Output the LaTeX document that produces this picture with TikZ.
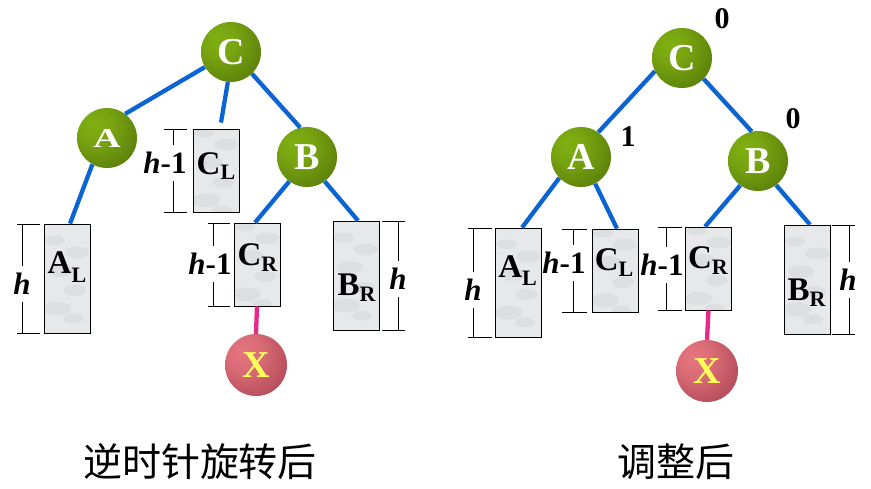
\documentclass[tikz,border=0pt]{standalone}
\usepackage{fontspec}
\setmainfont{Liberation Serif}
\newfontfamily\cjk{Noto Sans CJK SC}
\definecolor{gLight}{RGB}{128,176,18}
\definecolor{gDark}{RGB}{72,100,6}
\definecolor{rLight}{RGB}{230,118,128}
\definecolor{rDark}{RGB}{150,52,66}
\definecolor{xyellow}{RGB}{255,255,90}
\definecolor{edgeblue}{RGB}{10,100,210}
\definecolor{edgepink}{RGB}{232,40,140}
\definecolor{boxgray}{RGB}{230,232,233}
\definecolor{spotgray}{RGB}{200,203,205}
\pgfdeclareradialshading{greenball}{\pgfpoint{-12bp}{12bp}}{color(0bp)=(gLight); color(14bp)=(gLight!85!gDark); color(52bp)=(gDark); color(80bp)=(gDark)}
\pgfdeclareradialshading{redball}{\pgfpoint{-12bp}{12bp}}{color(0bp)=(rLight); color(14bp)=(rLight!85!rDark); color(52bp)=(rDark); color(80bp)=(rDark)}
\newcommand{\sublab}[3]{{\fontsize{33}{33}\selectfont #1}\raisebox{-#3pt}{\fontsize{22}{22}\selectfont #2}}
\newcommand{\hlab}{{\itshape h}}
\newcommand{\hmlab}{{\itshape h}-1}
\begin{document}
\begin{tikzpicture}[x=1pt,y=-1pt,
  gball/.style={circle, minimum size=60pt, inner sep=0pt, shading=greenball, text=white, font=\fontsize{38}{38}\selectfont\bfseries},
  rball/.style={circle, minimum size=62pt, inner sep=0pt, shading=redball, text=xyellow, font=\fontsize{38}{38}\selectfont\bfseries},
  subtree/.style={draw=black, line width=0.8pt, inner sep=0pt, minimum width=46pt,
    path picture={\fill[boxgray] (path picture bounding box.south west) rectangle (path picture bounding box.north east);
      \foreach \dx/\dy/\rr in {-10/-30/14, 8/-12/11, -6/8/13, 10/26/12, -12/38/10, 6/-40/10}{
        \fill[spotgray, opacity=0.3] ([xshift=\dx pt, yshift=\dy pt]path picture bounding box.center) ellipse ({\rr pt} and {0.5*\rr pt});}}},
  boxtext/.style={anchor=base, inner sep=0pt, font=\bfseries},
  edge/.style={draw=edgeblue, line width=4.3pt},
  xedge/.style={draw=edgepink, line width=4.3pt},
  dimline/.style={draw=black, line width=0.7pt},
  dimtext/.style={fill=white, inner xsep=0pt, inner ysep=7pt, font=\fontsize{31}{31}\selectfont\bfseries},
  baltext/.style={inner sep=0pt, font=\fontsize{30}{30}\selectfont\bfseries},
  caption/.style={inner sep=0pt, font=\cjk\fontsize{39}{39}\selectfont}]
\useasboundingbox (0,0) rectangle (871,488);
\fill[white] (0,0) rectangle (871,488);

% ---------------- left tree ----------------
\node[subtree, minimum height=109pt] (AL) at (67,278.5) {};
\node[subtree, minimum height=83pt] (CL) at (216,170.5) {};
\node[subtree, minimum height=83pt] (CR) at (257,264.5) {};
\node[subtree, minimum height=109pt] (BR) at (356,275.5) {};

\node[gball] (C) at (231,52) {C};
\node[gball] (A) at (107,138) {\scalebox{1}[0.72]{A}};
\node[gball] (B) at (307,157) {B};
\node[rball] (X) at (256,365) {X};

\draw[edge] (C.-150) -- (A.53);
\draw[edge] (C.-96) -- ([xshift=5pt,yshift=6pt]CL.north);
\draw[edge] (C.-46) -- (B.103);
\draw[edge] (A.-119) -- ([xshift=3pt]AL.north);
\draw[edge] (B.-126) -- ([xshift=-2pt]CR.north);
\draw[edge] (B.-54) -- ([xshift=2pt]BR.north);
\draw[xedge] (CR.south) -- (X.north);

\node[boxtext] (ALt) at (67,273) {\sublab{A}{L}{9}};
\node[boxtext] (CLt) at (216,174) {\sublab{C}{L}{5}};
\node[boxtext] (CRt) at (257.5,265) {\sublab{C}{R}{6}};
\node[boxtext] (BRt) at (356.5,295) {\sublab{B}{R}{6}};

\draw[dimline] (17,224) -- (40,224) (22,224) -- (22,333) (17,333) -- (40,333);
\node[dimtext] (hAL) at (22,284) {\hlab};
\draw[dimline] (164,129) -- (187,129) (173,129) -- (173,212) (164,212) -- (187,212);
\node[dimtext] (hCL) at (165,163) {\hmlab};
\draw[dimline] (208,223) -- (230,223) (213,223) -- (213,306) (208,306) -- (230,306);
\node[dimtext] (hCR) at (210,264) {\hmlab};
\draw[dimline] (382,221) -- (405,221) (398,221) -- (398,330) (382,330) -- (405,330);
\node[dimtext] (hBR) at (398,279) {\hlab};

% ---------------- right tree ----------------
\node[subtree, minimum height=109pt] (AL2) at (518.5,282.5) {};
\node[subtree, minimum height=83pt] (CL2) at (615,270.5) {};
\node[subtree, minimum height=83pt] (CR2) at (708.5,268.5) {};
\node[subtree, minimum height=109pt] (BR2) at (807,279.5) {};

\node[gball] (C2) at (682,58) {C};
\node[gball] (A2) at (581,157) {A};
\node[gball] (B2) at (758,161) {B};
\node[rball] (X2) at (707,371) {X};

\draw[edge] (C2.-154) -- (A2.55);
\draw[edge] (C2.-44) -- (B2.102);
\draw[edge] (A2.-136) -- ([xshift=3.5pt]AL2.north);
\draw[edge] (A2.-62) -- ([xshift=2pt]CL2.north);
\draw[edge] (B2.-126) -- ([xshift=-3.5pt]CR2.north);
\draw[edge] (B2.-53) -- ([xshift=3pt]BR2.north);
\draw[xedge] (CR2.south) -- (X2.north);

\node[boxtext] (AL2t) at (517.5,277) {\sublab{A}{L}{8}};
\node[boxtext] (CL2t) at (614,270) {\sublab{C}{L}{6}};
\node[boxtext] (CR2t) at (708,268) {\sublab{C}{R}{6}};
\node[boxtext] (BR2t) at (806.5,300) {\sublab{B}{R}{6}};

\draw[dimline] (468,228) -- (492,228) (473,228) -- (473,337) (468,337) -- (492,337);
\node[dimtext] (hAL2) at (473,290) {\hlab};
\draw[dimline] (562,229) -- (587,229) (573,229) -- (573,312) (562,312) -- (587,312);
\node[dimtext] (hCL2) at (564,263) {\hmlab};
\draw[dimline] (658,227) -- (682,227) (666,227) -- (666,310) (658,310) -- (682,310);
\node[dimtext] (hCR2) at (662,265) {\hmlab};
\draw[dimline] (832,225) -- (855,225) (849,225) -- (849,334) (832,334) -- (855,334);
\node[dimtext] (hBR2) at (848,280) {\hlab};

\node[baltext] (balA) at (628,137) {1};
\node[baltext] (balB) at (793,119) {0};
\node[baltext] (balC) at (722,19) {0};

% ---------------- captions ----------------
\node[caption] (cap1) at (200,462) {逆时针旋转后};
\node[caption] (cap2) at (676,462) {调整后};
\end{tikzpicture}
\end{document}
